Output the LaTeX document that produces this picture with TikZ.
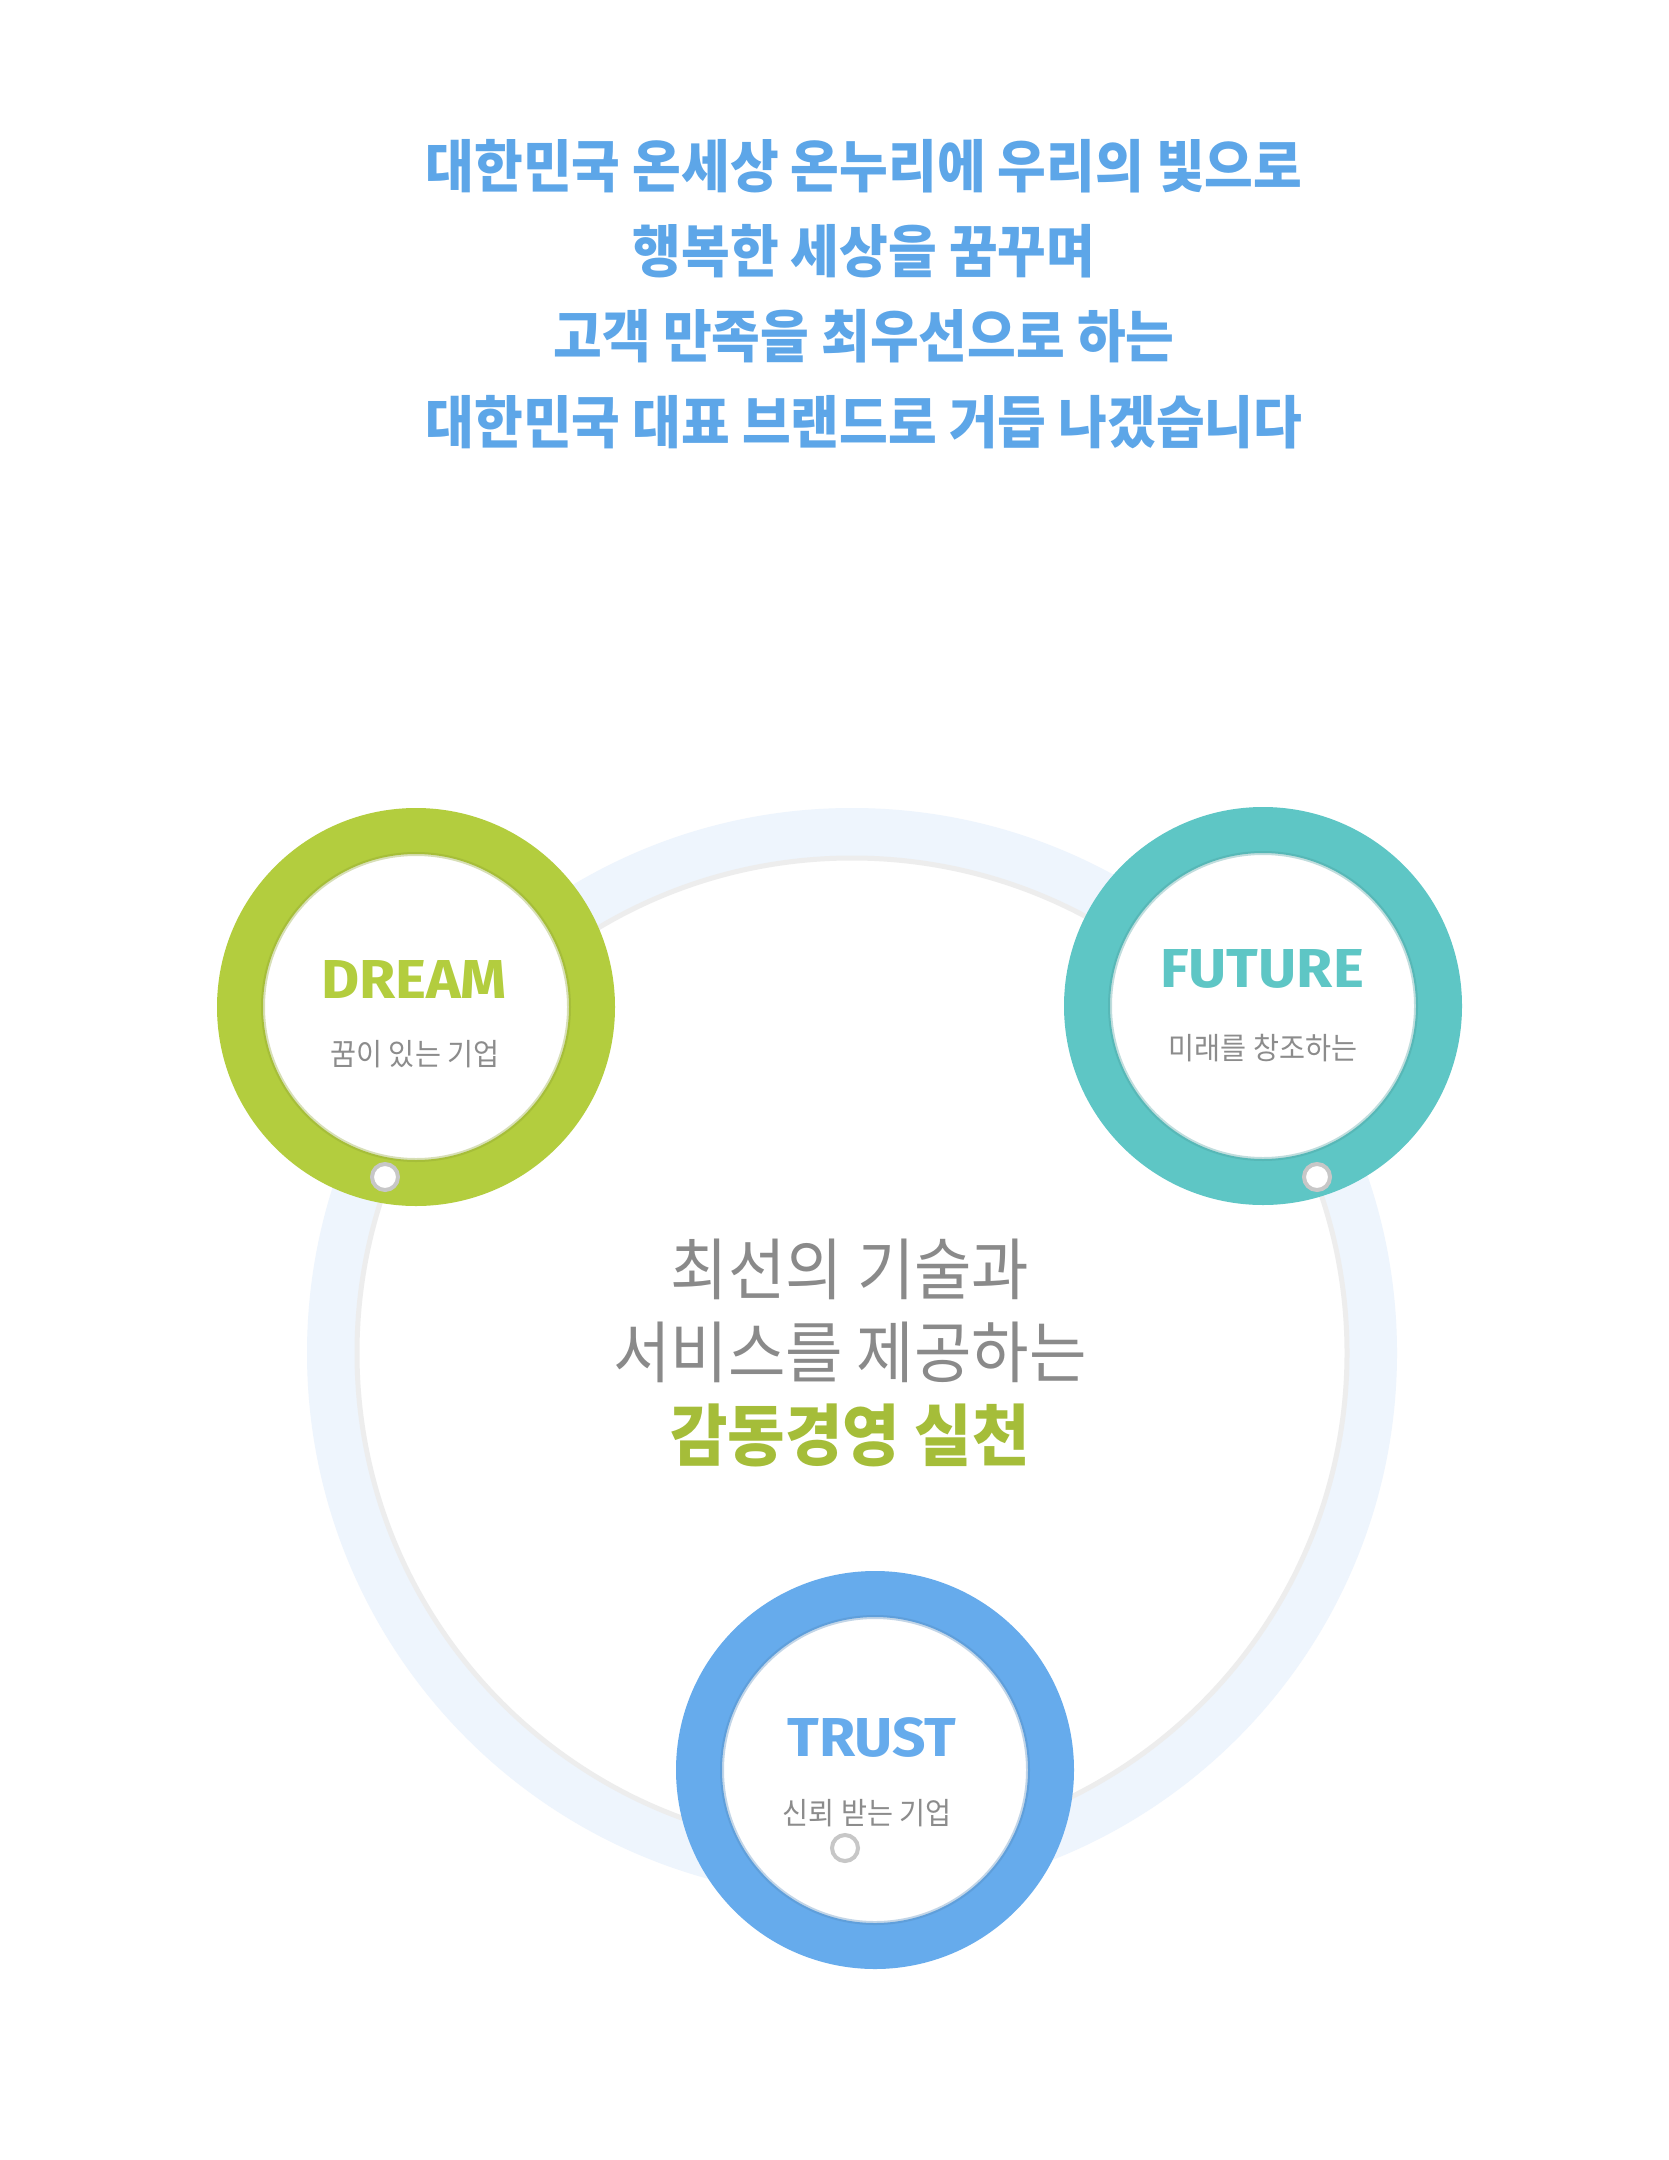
\documentclass[tikz,border=0pt]{standalone}
\usepackage{fontspec}
\newfontfamily\kr{Noto Sans CJK KR}[FakeStretch=0.93]
\newfontfamily\en{Fira Sans}[FakeStretch=1.07]
\definecolor{mottoblue}{HTML}{5DA6E8}
\definecolor{coreblue}{HTML}{EEF5FD}
\definecolor{dreamgreen}{HTML}{B3CD3E}
\definecolor{futureteal}{HTML}{5EC6C5}
\definecolor{trustblue}{HTML}{66ABEC}
\definecolor{textgray}{HTML}{8A8A8A}
\begin{document}
\begin{tikzpicture}[
  ring/.style={circle,draw=#1,line width=4.6mm,fill=white,minimum size=35.2mm,inner sep=0pt},
  pin/.style={circle,draw=black!22,line width=.4mm,fill=white,minimum size=2.6mm,inner sep=0pt},
  headword/.style={font=\en\bfseries\fontsize{15.6}{18}\selectfont,text=#1},
  subline/.style={font=\kr\fontsize{8.65}{10}\selectfont,text=black!45}]
\fill[white](0,0)rectangle(16.68,-21.6);
\useasboundingbox(0,0)rectangle(16.68,-21.6);

\node[font=\kr\bfseries\fontsize{16.2}{24.3}\selectfont,text=mottoblue,align=center](motto)at(8.64,-2.94)
  {대한민국 온세상 온누리에 우리의 빛으로\\행복한 세상을 꿈꾸며\\고객 만족을 최우선으로 하는\\대한민국 대표 브랜드로 거듭 나겠습니다};

\node[circle,draw=coreblue,line width=5mm,minimum size=104mm,inner sep=0pt](core)at(8.52,-13.53){};
\draw[black!7,line width=.5mm](core.center)circle(4.95);

\node[ring=dreamgreen](dream)at(4.16,-10.07){};
\draw[dreamgreen!80!black,opacity=.35,line width=.4mm](dream.center)circle(1.53);
\node[ring=futureteal](future)at(12.63,-10.06){};
\draw[futureteal!80!black,opacity=.35,line width=.4mm](future.center)circle(1.53);
\node[ring=trustblue](trust)at(8.75,-17.70){};
\draw[trustblue!80!black,opacity=.35,line width=.4mm](trust.center)circle(1.53);

\node[pin](dreampin)at(3.85,-11.77){};
\node[pin](futurepin)at(13.17,-11.77){};
\node[pin](trustpin)at(8.45,-18.48){};

\node[headword=dreamgreen](dreamword)at(4.14,-9.79){DREAM};
\node[subline](dreamsub)at(4.15,-10.54){꿈이 있는 기업};
\node[headword=futureteal](futureword)at(12.62,-9.69){FUTURE};
\node[subline](futuresub)at(12.63,-10.48){미래를 창조하는};
\node[headword=trustblue](trustword)at(8.72,-17.37){TRUST};
\node[subline](trustsub)at(8.67,-18.13){신뢰 받는 기업};

\node[font=\kr\fontsize{19.1}{23.6}\selectfont,text=textgray,align=center](slogan)at(8.50,-13.53)
  {최선의 기술과\\서비스를 제공하는\\{\bfseries\color{dreamgreen!92!black}감동경영 실천}};
\end{tikzpicture}
\end{document}
